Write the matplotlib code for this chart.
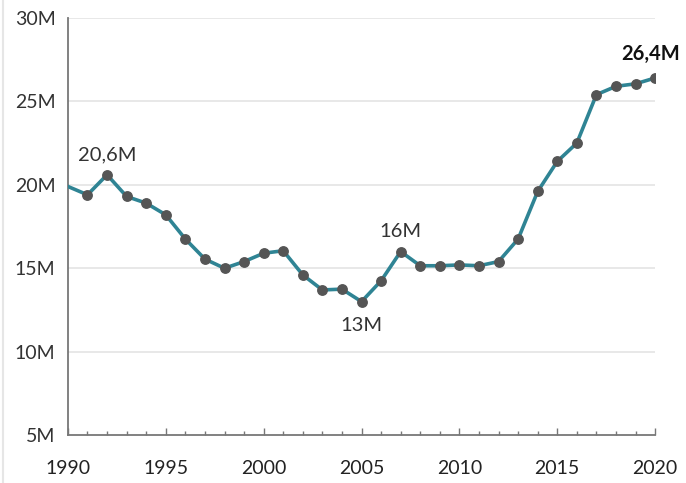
import matplotlib.pyplot as plt
from matplotlib.ticker import MultipleLocator, FuncFormatter
from matplotlib.lines import Line2D

years = list(range(1990, 2021))
values = [19.9, 19.4, 20.6, 19.3, 18.9, 18.2, 16.75, 15.55, 15.0, 15.4,
          15.9, 16.05, 14.6, 13.7, 13.75, 13.0, 14.25, 16.0, 15.15, 15.15,
          15.2, 15.15, 15.4, 16.75, 19.6, 21.4, 22.5, 25.4, 25.9, 26.05,
          26.4]
y_ticks = [5, 10, 15, 20, 25, 30]
x_ticks = [1990, 1995, 2000, 2005, 2010, 2015, 2020]

# (année, texte, décalage x / y en points, gras)
annotations = [
    (1992, "20,6M", (0, 14.5), False),
    (2005, "13M", (0, -17), False),
    (2007, "16M", (0, 14.5), False),
    (2020, "26,4M", (-3, 17), True),
]

plt.rcParams['font.family'] = ['Lato', 'DejaVu Sans']

fig = plt.figure(figsize=(6.86, 4.83), dpi=100)
ax = fig.add_axes([0.099, 0.099, 0.856, 0.864])

ax.plot(years, values, color='#2f8494', lw=2.6, zorder=3)
ax.plot(years[1:], values[1:], 'o', color='#555555', ms=6.8, zorder=4)

for yr, txt, off, bold in annotations:
    v = values[years.index(yr)]
    ax.annotate(txt, (yr, v), xytext=off, textcoords='offset points',
                ha='center', va='center', fontsize=14.5,
                fontweight='bold' if bold else 'normal',
                color='#111111' if bold else '#333333',
                annotation_clip=False)

ax.set_xlim(1990, 2020)
ax.set_ylim(5, 30)
ax.set_yticks(y_ticks)
ax.set_xticks(x_ticks)
ax.xaxis.set_minor_locator(MultipleLocator(1))
ax.yaxis.set_major_formatter(FuncFormatter(lambda v, p: f"{int(v)}M"))

for y in y_ticks[1:]:
    ax.axhline(y, color='#e4e4e4', lw=1.2, zorder=1)

for s in ['top', 'right']:
    ax.spines[s].set_visible(False)
ax.spines['left'].set_color('#777777')
ax.spines['bottom'].set_color('#777777')
ax.spines['left'].set_linewidth(1.3)
ax.spines['bottom'].set_linewidth(1.3)

ax.tick_params(axis='y', length=0, pad=9, labelsize=14, labelcolor='#333333')
ax.tick_params(axis='x', which='major', direction='in', length=5, width=1,
               color='#777777', pad=18, labelsize=14, labelcolor='#222222')
ax.tick_params(axis='x', which='minor', direction='in', length=3, width=1,
               color='#777777')

# fin cadre gris à gauche de l'image
fig.add_artist(Line2D([0.004, 0.004], [0, 1], color='#e6e6e6', lw=1.5))

fig.savefig("out.png", dpi=100)
